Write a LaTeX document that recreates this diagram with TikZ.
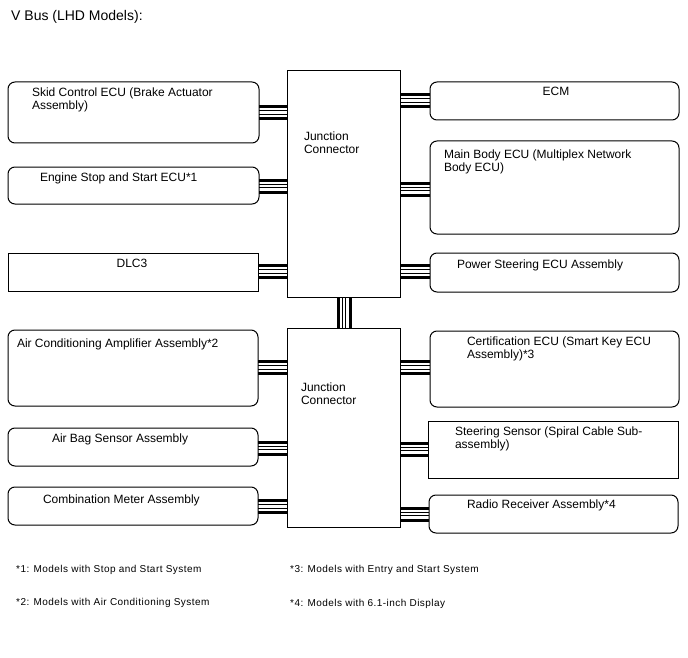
\documentclass[tikz,border=0pt]{standalone}
\usepackage{fontspec}
\setmainfont{Liberation Sans}
\newfontfamily\fnfont[LetterSpace=4.5]{Liberation Sans}
\usetikzlibrary{calc}
\tikzset{
  sbox/.style={draw, line width=1pt, inner sep=0pt, outer sep=0pt, fill=white},
  rbox/.style={sbox, rounded corners=7pt},
  txt/.style={inner sep=0pt, outer sep=0pt, anchor=north west, align=left,
    font=\fontsize{12}{13}\selectfont},
  ctxt/.style={txt, anchor=north, align=center},
  fn/.style={inner sep=0pt, anchor=west, font=\fnfont\fontsize{10}{11}\selectfont},
}
\newcommand\hbus[3]{%
  \foreach \o/\w in {-6/3, -1.8/0.9, 1.8/0.9, 6/3}{%
    \pgfmathsetmacro\yy{#3+\o}%
    \draw[line width=\w pt] (#1.east |- 0,\yy) -- (#2.west |- 0,\yy);}}
\begin{document}
\begin{tikzpicture}[x=1pt, y=-1pt]
\useasboundingbox (0,0) rectangle (688,658);
\node[inner sep=0pt, anchor=base west, font=\fontsize{14}{15}\selectfont] (title) at (11,21) {V Bus (LHD Models):};

% junction connectors
\node[sbox, minimum width=113pt, minimum height=226pt] (jc1) at (343.5,184) {};
\node[sbox, minimum width=113pt, minimum height=199pt] (jc2) at (343.5,427.5) {};

% left boxes
\node[rbox, minimum width=251pt, minimum height=61pt] (skid) at (133.5,112.5) {};
\node[rbox, minimum width=251pt, minimum height=37pt] (eng) at (133.5,185.5) {};
\node[sbox, minimum width=250pt, minimum height=38pt] (dlc) at (133,272) {};
\node[rbox, minimum width=250pt, minimum height=76pt] (ac) at (133,368) {};
\node[rbox, minimum width=250pt, minimum height=38pt] (bag) at (133,447) {};
\node[rbox, minimum width=250pt, minimum height=38pt] (comb) at (133,506) {};

% right boxes
\node[rbox, minimum width=249pt, minimum height=38pt] (ecm) at (554.5,101) {};
\node[rbox, minimum width=249pt, minimum height=93pt] (body) at (554.5,187.5) {};
\node[rbox, minimum width=249pt, minimum height=39pt] (ps) at (554.5,272.5) {};
\node[rbox, minimum width=249pt, minimum height=76pt] (cert) at (554.5,369) {};
\node[sbox, minimum width=250pt, minimum height=57pt] (steer) at (553,449.5) {};
\node[rbox, minimum width=249pt, minimum height=38pt] (radio) at (553.5,514) {};

% texts
\node[txt] (tskid) at (32,87.4) {Skid Control ECU (Brake Actuator\\Assembly)};
\node[txt] (teng) at (40,172.4) {Engine Stop and Start ECU*1};
\node[ctxt] (tdlc) at (132,259.4) {DLC3};
\node[txt] (tac) at (17,338.4) {Air Conditioning Amplifier Assembly*2};
\node[txt] (tbag) at (52,433.4) {Air Bag Sensor Assembly};
\node[txt] (tcomb) at (43,494.4) {Combination Meter Assembly};
\node[ctxt] (tecm) at (556,87.4) {ECM};
\node[txt] (tbody) at (444,149.4) {Main Body ECU (Multiplex Network\\Body ECU)};
\node[txt] (tps) at (457,259.4) {Power Steering ECU Assembly};
\node[txt] (tcert) at (467,336.4) {Certification ECU (Smart Key ECU\\Assembly)*3};
\node[txt] (tsteer) at (455,426.4) {Steering Sensor (Spiral Cable Sub-\\assembly)};
\node[txt] (tradio) at (467,499.4) {Radio Receiver Assembly*4};
\node[txt] (tjc1) at (304,131.4) {Junction\\Connector};
\node[txt] (tjc2) at (301,382.4) {Junction\\Connector};

% buses
\hbus{skid}{jc1}{112.5}
\hbus{eng}{jc1}{186}
\hbus{dlc}{jc1}{271.5}
\hbus{ac}{jc2}{367.5}
\hbus{bag}{jc2}{448}
\hbus{comb}{jc2}{506.5}
\hbus{jc1}{ecm}{100.5}
\hbus{jc1}{body}{189}
\hbus{jc1}{ps}{271.5}
\hbus{jc2}{cert}{367.5}
\hbus{jc2}{steer}{449}
\hbus{jc2}{radio}{514}
\foreach \o/\w in {-6/3, -1.8/0.9, 1.8/0.9, 6/3}{%
  \pgfmathsetmacro\xx{344+\o}%
  \draw[line width=\w pt] (jc1.south -| \xx,0) -- (jc2.north -| \xx,0);}

% footnotes
\node[fn] (f1) at (16,570) {*1: Models with Stop and Start System};
\node[fn] (f2) at (16,603) {*2: Models with Air Conditioning System};
\node[fn] (f3) at (290,570) {*3: Models with Entry and Start System};
\node[fn] (f4) at (290,604) {*4: Models with 6.1-inch Display};
\end{tikzpicture}
\end{document}
